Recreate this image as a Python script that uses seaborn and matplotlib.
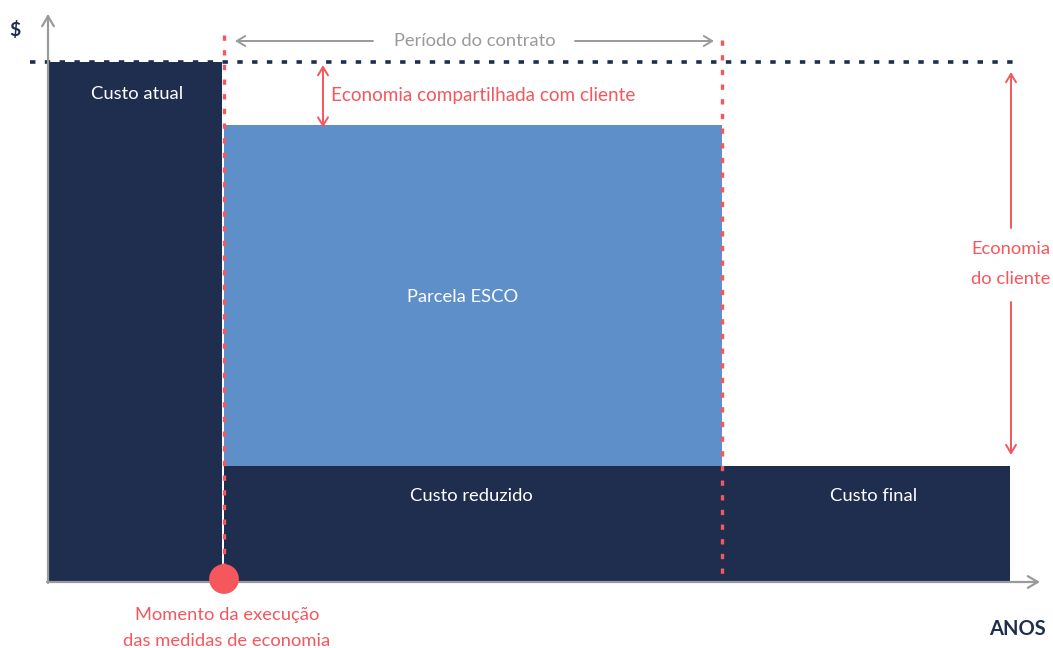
import matplotlib
matplotlib.use("Agg")
import matplotlib.pyplot as plt
import seaborn as sns
import pandas as pd

# ---------------- data ----------------
segment_labels = ["Custo atual", "Custo reduzido", "Custo final"]
segment_start = [0.0, 1.76, 6.74]      # years
segment_end = [1.74, 6.74, 9.62]
segment_cost = [100.0, 22.3, 22.3]     # $
esco_label = "Parcela ESCO"
esco_start = 1.76
esco_end = 6.74
esco_top = 87.9
current_cost = 100.0

# ---------------- style ----------------
sns.set_theme(style="white")
plt.rcParams['font.family'] = ['Lato', 'DejaVu Sans']

NAVY = "#1f2d4e"
BLUE = "#5f8fc9"
RED = "#f4575c"
GRAY = "#9a9a9a"
FS = 13.2

W, H = 1053, 648
fig = plt.figure(figsize=(W / 100, H / 100), dpi=100)
ax = fig.add_axes([0, 0, 1, 1])
# pixel mapping: x=0 yr at px 48, 100 px / yr ; y=0 at px 582 (from top), 5.2 px / $
XS, X0 = 100.0, 48.0
YS, Y0 = 5.2, 582.0
ax.set_xlim(-X0 / XS, (W - X0) / XS)
ax.set_ylim(-(H - Y0) / YS, Y0 / YS)
ax.axis("off")


def P(xp, yp):
    return ((xp - X0) / XS, (Y0 - yp) / YS)


df = pd.DataFrame({"label": segment_labels, "start": segment_start,
                   "end": segment_end, "cost": segment_cost})
df["width"] = df["end"] - df["start"]

# cost bars
ax.bar(df["start"], df["cost"], width=df["width"], align="edge",
       color=NAVY, linewidth=0, zorder=2)
# ESCO share
ax.bar([esco_start], [esco_top - segment_cost[1]], bottom=[segment_cost[1]],
       width=[esco_end - esco_start], align="edge", color=BLUE, linewidth=0, zorder=2)

# bar labels
tk = dict(color="white", fontsize=FS, ha="center", va="center", zorder=5)
ax.text(*P(137, 94), segment_labels[0], **tk)
ax.text(*P(471, 496), segment_labels[1], **tk)
ax.text(*P(874, 496), segment_labels[2], **tk)
ax.text(*P(463, 297), esco_label, **tk)

# axes with arrows
ax.annotate("", xy=P(48, 14), xytext=P(48, 583),
            arrowprops=dict(arrowstyle="->,head_length=0.6,head_width=0.35", color=GRAY, lw=1.6,
                            shrinkA=0, shrinkB=0), zorder=4)
ax.annotate("", xy=P(1040, 582), xytext=P(47, 582),
            arrowprops=dict(arrowstyle="->,head_length=0.6,head_width=0.35", color=GRAY, lw=1.6,
                            shrinkA=0, shrinkB=0), zorder=4)

# dotted current-cost line
sns.lineplot(x=[P(30, 0)[0], P(1016, 0)[0]], y=[current_cost, current_cost], ax=ax,
             color=NAVY, lw=2.6, linestyle=(0, (1.5, 2.6)), zorder=3)

# red dotted vertical lines (contract period)
for xv, ytop in [(esco_start - 0.0, 35), (esco_end, 40)]:
    ax.plot([xv, xv], [P(0, ytop)[1], 0], color=RED, lw=2.4,
            linestyle=(0, (1.6, 2.8)), zorder=4)

# red dot: moment of execution
sns.scatterplot(x=[esco_start], y=[P(0, 579)[1]], ax=ax, s=460, color=RED,
                edgecolor="none", zorder=6)

# period arrow
ax.annotate("", xy=P(235, 41), xytext=P(373, 41),
            arrowprops=dict(arrowstyle="->,head_length=0.5,head_width=0.3", color=GRAY, lw=1.4,
                            shrinkA=0, shrinkB=0))
ax.annotate("", xy=P(714, 41), xytext=P(575, 41),
            arrowprops=dict(arrowstyle="->,head_length=0.5,head_width=0.3", color=GRAY, lw=1.4,
                            shrinkA=0, shrinkB=0))
ax.text(*P(475, 41), "Período do contrato", color=GRAY, fontsize=FS,
        ha="center", va="center")

# shared savings arrow
ax.annotate("", xy=(P(323, 0)[0], esco_top - 0.5), xytext=(P(323, 0)[0], current_cost - 0.6),
            arrowprops=dict(arrowstyle="<->,head_length=0.5,head_width=0.3", color=RED, lw=1.4,
                            shrinkA=0, shrinkB=0))
ax.text(*P(331, 95), "Economia compartilhada com cliente", color=RED, fontsize=FS + 0.4,
        ha="left", va="center")

# client savings arrow
xr = P(1011, 0)[0]
ax.annotate("", xy=(xr, P(0, 72)[1]), xytext=(xr, P(0, 228)[1]),
            arrowprops=dict(arrowstyle="->,head_length=0.5,head_width=0.3", color=RED, lw=1.4,
                            shrinkA=0, shrinkB=0))
ax.annotate("", xy=(xr, P(0, 455)[1]), xytext=(xr, P(0, 302)[1]),
            arrowprops=dict(arrowstyle="->,head_length=0.5,head_width=0.3", color=RED, lw=1.4,
                            shrinkA=0, shrinkB=0))
ax.text(*P(1011, 249), "Economia", color=RED, fontsize=FS, ha="center", va="center")
ax.text(*P(1011, 279), "do cliente", color=RED, fontsize=FS, ha="center", va="center")

# bottom note
ax.text(*P(227, 615), "Momento da execução", color=RED, fontsize=FS, ha="center", va="center")
ax.text(*P(227, 641), "das medidas de economia", color=RED, fontsize=FS, ha="center", va="center")

# axis titles
ax.text(*P(15, 30), "$", color=NAVY, fontsize=14, fontweight="bold", ha="center", va="center")
ax.text(*P(1017, 629), "ANOS", color=NAVY, fontsize=14.5, fontweight="bold", ha="center", va="center")

fig.savefig("out.png", dpi=100)
